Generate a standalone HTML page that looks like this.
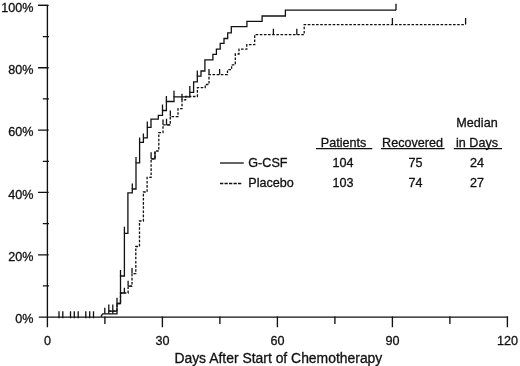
<!DOCTYPE html>
<html lang="en"><head><meta charset="utf-8"><title>Time to recovery</title>
<style>
html,body{margin:0;padding:0;background:#fff;}
body{width:520px;height:366px;overflow:hidden;}
svg{display:block;}
text{font-family:"Liberation Sans",Arial,Helvetica,sans-serif;fill:#111;stroke:#111;stroke-width:0.3px;}
.t{font-size:12.6px;}
.ax{font-size:13.92px;}
.l{stroke:#111;stroke-width:1.35;fill:none;stroke-linecap:square;}
.c{stroke:#111;stroke-width:1.3;fill:none;stroke-linejoin:miter;}
.d{stroke:#111;stroke-width:1.3;fill:none;stroke-dasharray:2.6 1.55;}
.d2{stroke:#111;stroke-width:1.3;fill:none;stroke-dasharray:3.3 1.2;}
.u{stroke:#111;stroke-width:1.3;fill:none;}
</style></head><body>
<svg width="520" height="366" viewBox="0 0 520 366">
<rect width="520" height="366" fill="#fff"/>
<path class="l" d="M38.7,5.4 H47.4 V326.6 M39.5,317.1 H507.4"/>
<path class="l" d="M43.5,285.9 H48.3 M38.7,254.8 H48.0 M43.5,223.6 H48.3 M38.7,192.4 H48.0 M43.5,161.3 H48.3 M38.7,130.1 H48.0 M43.5,98.9 H48.3 M38.7,67.7 H48.0 M43.5,36.6 H48.3 M38.7,5.4 H48.0"/>
<path class="l" d="M104.9,317.1 V323.2 M162.4,317.1 V326.6 M219.9,317.1 V323.2 M277.4,317.1 V326.6 M334.9,317.1 V323.2 M392.4,317.1 V326.6 M449.9,317.1 V323.2 M507.4,317.1 V326.6"/>
<path class="c" d="M59.0,311.2 V318.2 M62.8,311.2 V318.2 M70.5,311.2 V318.2 M74.3,311.2 V318.2 M78.2,311.2 V318.2 M85.8,311.2 V318.2 M89.7,311.2 V318.2 M93.5,311.2 V318.2"/>
<path class="c" d="M100.8,316.6 L102.7,313.8 L117.0,313.8 L117.0,303.5 L120.5,303.5 L120.5,276.0 L124.4,276.0 L124.4,233.4 L127.9,233.4 L127.9,192.8 L132.3,192.8 L132.3,189.0 L136.0,189.0 L136.0,162.9 L139.6,162.9 L139.6,142.3 L143.4,142.3 L143.4,137.8 L147.3,137.8 L147.3,127.3 L151.0,127.3 L151.0,119.1 L158.3,119.1 L158.3,115.3 L162.5,115.3 L162.5,110.5 L166.4,110.5 L166.4,101.5 L174.0,101.5 L174.0,96.9 L189.8,96.9 L189.8,92.3 L193.6,92.3 L193.6,81.9 L197.3,81.9 L197.3,76.2 L201.0,76.2 L201.0,71.0 L204.9,71.0 L204.9,59.8 L212.9,59.8 L212.9,54.3 L216.4,54.3 L216.4,49.2 L220.2,49.2 L220.2,43.4 L224.0,43.4 L224.0,38.5 L227.7,38.5 L227.7,32.8 L231.3,32.8 L231.3,26.7 L246.9,26.7 L246.9,21.3 L262.1,21.3 L262.1,16.0 L285.4,16.0 L285.4,10.2 L396.0,10.2"/>
<path class="c" d="M104.8,313.8 V307.7 M108.8,313.8 V304.6 M112.8,313.8 V304.6 M117.0,303.5 V297.7 M120.5,276.0 V270.0 M124.4,233.4 V226.8 M132.3,189.0 V183.4 M136.0,162.9 V157.0 M139.6,142.3 V137.5 M143.4,137.8 V133.4 M147.3,127.3 V121.4 M162.5,110.5 V104.5 M166.4,101.5 V95.9 M174.0,96.9 V90.8 M189.8,92.3 V86.0 M197.3,76.2 V70.5 M396.0,10.2 V3.8"/>
<path class="d" d="M108.8,311.2 L117.0,311.2 L117.0,303.5 L120.5,303.5 L120.5,293.0 L128.1,293.0 L128.1,286.2 L132.0,286.2 L132.0,273.6 L135.8,273.6 L135.8,246.5 L139.5,246.5 L139.5,221.0 L143.4,221.0 L143.4,192.0 L147.1,192.0 L147.1,177.3 L151.1,177.3 L151.1,158.8 L155.0,158.8 L155.0,151.0 L158.8,151.0 L158.8,132.6 L163.0,132.6 L163.0,124.8 L170.3,124.8 L170.3,116.6 L178.0,116.6 L178.0,108.6 L182.0,108.6 L182.0,99.9 L185.6,99.9 L185.6,96.5 L197.4,96.5 L197.4,87.7 L205.2,87.7 L205.2,84.5 L209.0,84.5 L209.0,74.6 L227.5,74.6 L227.5,69.7 L231.6,69.7 L231.6,64.8 L235.3,64.8 L235.3,54.0 L239.0,54.0 L239.0,49.2 L246.8,49.2 L246.8,44.6 L254.7,44.6 L254.7,34.7 L304.2,34.7 L304.2,24.6 L465.6,24.6"/>
<path class="c" d="M124.4,293.0 V287.7 M128.1,286.2 V280.8 M132.0,273.6 V268.0 M151.1,158.8 V152.2 M163.0,124.8 V119.4 M166.5,124.8 V118.7 M170.3,116.6 V110.5 M182.0,99.9 V93.7 M209.0,74.6 V68.9 M219.6,74.6 V68.9 M273.4,34.7 V28.7 M296.8,34.7 V28.7 M392.4,24.6 V18.0 M465.6,24.6 V18.0"/>
<path class="c" d="M108.8,311.2 H117 M120.5,293 H124.4 M128.1,286.2 H132 M166.5,124.8 H170.3 M151.1,158.8 H155 V151.5"/>
<text class="t" x="33.4" y="323.2" text-anchor="end">0%</text>
<text class="t" x="33.4" y="260.9" text-anchor="end">20%</text>
<text class="t" x="33.4" y="198.5" text-anchor="end">40%</text>
<text class="t" x="33.4" y="136.2" text-anchor="end">60%</text>
<text class="t" x="33.4" y="73.8" text-anchor="end">80%</text>
<text class="t" x="33.4" y="11.5" text-anchor="end">100%</text>
<text class="t" x="47.6" y="345.4" text-anchor="middle">0</text>
<text class="t" x="162.6" y="345.4" text-anchor="middle">30</text>
<text class="t" x="277.6" y="345.4" text-anchor="middle">60</text>
<text class="t" x="392.6" y="345.4" text-anchor="middle">90</text>
<text class="t" x="507.6" y="345.4" text-anchor="middle">120</text>
<text class="ax" x="174.4" y="362.5">Days After Start of Chemotherapy</text>
<path class="c" d="M220,163 H243.8"/>
<path class="d2" d="M220,183.5 H242"/>
<text class="t" x="248.3" y="167.2">G-CSF</text>
<text class="t" x="248.3" y="187.2">Placebo</text>
<text class="t" x="343.5" y="146.5" text-anchor="middle">Patients</text>
<text class="t" x="412.5" y="146.5" text-anchor="middle">Recovered</text>
<text class="t" x="477" y="126.5" text-anchor="middle">Median</text>
<text class="t" x="477" y="146.5" text-anchor="middle">in Days</text>
<path class="u" d="M316,148.6 H372.3 M381,148.6 H444.6 M453.8,148.6 H502"/>
<text class="t" x="343" y="167.2" text-anchor="middle">104</text>
<text class="t" x="415.4" y="167.2" text-anchor="middle">75</text>
<text class="t" x="477" y="167.2" text-anchor="middle">24</text>
<text class="t" x="343" y="187.2" text-anchor="middle">103</text>
<text class="t" x="415.4" y="187.2" text-anchor="middle">74</text>
<text class="t" x="477" y="187.2" text-anchor="middle">27</text>
</svg>
</body></html>
